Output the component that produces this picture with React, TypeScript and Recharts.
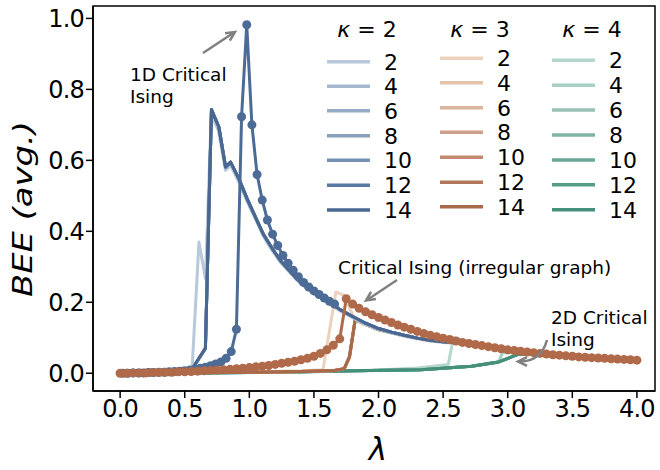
import { LineChart, Line, XAxis, YAxis, ReferenceArea } from "recharts";

type Pt = [number, number];

const FONT = "'DejaVu Sans', Verdana, sans-serif";

const LAMBDA_TICKS = [0, 0.5, 1, 1.5, 2, 2.5, 3, 3.5, 4];
const BEE_TICKS = [0, 0.2, 0.4, 0.6, 0.8, 1.0];
const N_SIZES = [2, 4, 6, 8, 10, 12, 14];

const BLUES = ["#b7c9db", "#a4b8cd", "#96acc5", "#8aa1bd", "#7591b4", "#5a79a3", "#4a6791"];
const BROWNS = ["#ecd2bc", "#e3c4aa", "#d9b69c", "#cda08a", "#c18a6e", "#b2785a", "#a9694b"];
const TEALS = ["#b5d6cc", "#a8cfc3", "#97c2b6", "#7fb3a4", "#6aa896", "#579d89", "#44907b"];

// kappa = 2
const K2_N2: Pt[] = [
  [0, 0], [0.2, 0.001], [0.4, 0.003], [0.5, 0.005], [0.557, 0.012], [0.61, 0.37], [0.66, 0.267],
  [0.705, 0.728], [0.76, 0.685], [0.815, 0.572], [0.855, 0.585], [0.92, 0.538], [0.985, 0.482],
  [1.05, 0.432], [1.11, 0.385], [1.18, 0.344], [1.24, 0.313], [1.32, 0.281], [1.4, 0.251],
  [1.5, 0.224], [1.6, 0.201], [1.7, 0.176], [1.8, 0.156], [1.9, 0.137], [2.0, 0.123], [2.1, 0.113],
  [2.2, 0.104], [2.3, 0.097], [2.4, 0.091], [2.5, 0.087], [2.6, 0.084], [2.8, 0.075], [3.0, 0.065],
  [3.25, 0.056], [3.5, 0.048], [3.75, 0.042], [4.0, 0.036],
];
const K2_LARGE: Pt[] = [
  [0, 0], [0.2, 0.001], [0.4, 0.003], [0.5, 0.005], [0.557, 0.012], [0.66, 0.07], [0.707, 0.743],
  [0.764, 0.694], [0.816, 0.581], [0.855, 0.595], [0.92, 0.547], [0.985, 0.49], [1.05, 0.438],
  [1.11, 0.391], [1.18, 0.35], [1.24, 0.318], [1.32, 0.285], [1.4, 0.255], [1.5, 0.228],
  [1.6, 0.205], [1.7, 0.18], [1.8, 0.16], [1.9, 0.141], [2.0, 0.126], [2.1, 0.116], [2.2, 0.107],
  [2.3, 0.099], [2.4, 0.093], [2.5, 0.089], [2.6, 0.086], [2.8, 0.077], [3.0, 0.067],
  [3.25, 0.058], [3.5, 0.049], [3.75, 0.043], [4.0, 0.037],
];

// kappa = 3
const K3_N2: Pt[] = [
  [0, 0], [0.5, 0.002], [1.0, 0.004], [1.4, 0.007], [1.57, 0.01], [1.67, 0.229], [1.73, 0.22],
  [1.82, 0.15], [1.9, 0.137], [2.0, 0.122], [2.2, 0.105], [2.4, 0.091], [2.6, 0.085],
  [3.0, 0.066], [3.5, 0.048], [4.0, 0.036],
];
const K3_LARGE: Pt[] = [
  [0, 0], [0.5, 0.002], [1.0, 0.003], [1.4, 0.005], [1.66, 0.008], [1.735, 0.013], [1.775, 0.046],
  [1.82, 0.152], [1.9, 0.138], [2.0, 0.123], [2.2, 0.106], [2.4, 0.092], [2.6, 0.085],
  [3.0, 0.066], [3.5, 0.048], [4.0, 0.036],
];

// kappa = 4
const K4_N2: Pt[] = [
  [0, 0], [0.5, 0.001], [1.0, 0.002], [1.5, 0.004], [2.0, 0.009], [2.3, 0.015], [2.54, 0.025],
  [2.58, 0.1], [2.75, 0.083], [2.95, 0.062], [3.1, 0.058], [3.5, 0.046], [4.0, 0.035],
];
const K4_N4: Pt[] = [
  [0, 0], [0.5, 0.001], [1.0, 0.002], [1.5, 0.004], [2.0, 0.008], [2.33, 0.011], [2.72, 0.02],
  [2.93, 0.031], [2.96, 0.058], [3.1, 0.058], [3.5, 0.046], [4.0, 0.035],
];
const K4_LARGE: Pt[] = [
  [0, 0], [0.5, 0.001], [1.0, 0.002], [1.4, 0.004], [1.8, 0.007], [2.33, 0.01], [2.72, 0.02],
  [2.93, 0.032], [3.03, 0.046], [3.08, 0.053], [3.2, 0.056], [3.5, 0.047], [4.0, 0.036],
];

// reference curves with markers
const CHAIN_LAMBDA = [
  0.02, 0.06, 0.1, 0.14, 0.18, 0.22, 0.26, 0.3, 0.34, 0.38, 0.42, 0.46, 0.5, 0.54, 0.58, 0.62,
  0.66, 0.7, 0.74, 0.78, 0.82, 0.86, 0.9, 0.94, 0.98, 1.02, 1.06, 1.1, 1.14, 1.18, 1.22, 1.26,
  1.3, 1.34, 1.38, 1.42, 1.46, 1.5, 1.54, 1.58, 1.62, 1.66,
];
const CHAIN_BEE = [
  0, 0, 0.001, 0.001, 0.001, 0.002, 0.002, 0.003, 0.003, 0.004, 0.005, 0.006, 0.007, 0.009, 0.011,
  0.014, 0.017, 0.021, 0.026, 0.032, 0.042, 0.061, 0.124, 0.723, 0.982, 0.7, 0.56, 0.488, 0.432,
  0.392, 0.36, 0.332, 0.31, 0.29, 0.272, 0.256, 0.243, 0.232, 0.222, 0.212, 0.203, 0.195,
];

const IRREG_LAMBDA = [
  0, 0.05, 0.1, 0.15, 0.2, 0.25, 0.3, 0.35, 0.4, 0.45, 0.5, 0.55, 0.6, 0.65, 0.7, 0.75, 0.8, 0.85,
  0.9, 0.95, 1.0, 1.05, 1.1, 1.15, 1.2, 1.25, 1.3, 1.35, 1.4, 1.45, 1.5, 1.55, 1.6, 1.65, 1.7,
  1.75, 1.8, 1.85, 1.9, 1.95, 2.0, 2.05, 2.1, 2.15, 2.2, 2.25, 2.3, 2.35, 2.4, 2.45, 2.5, 2.55,
  2.6, 2.65, 2.7, 2.75, 2.8, 2.85, 2.9, 2.95, 3.0, 3.05, 3.1, 3.15, 3.2, 3.25, 3.3, 3.35, 3.4,
  3.45, 3.5, 3.55, 3.6, 3.65, 3.7, 3.75, 3.8, 3.85, 3.9, 3.95, 4.0,
];
const IRREG_BEE = [
  0, 0, 0.001, 0.001, 0.001, 0.002, 0.002, 0.003, 0.003, 0.004, 0.004, 0.005, 0.006, 0.007, 0.008,
  0.009, 0.01, 0.011, 0.013, 0.014, 0.016, 0.018, 0.02, 0.022, 0.025, 0.028, 0.031, 0.034, 0.038,
  0.042, 0.048, 0.056, 0.066, 0.079, 0.097, 0.21, 0.195, 0.183, 0.173, 0.165, 0.157, 0.15, 0.143,
  0.136, 0.13, 0.124, 0.118, 0.112, 0.107, 0.103, 0.099, 0.095, 0.091, 0.087, 0.084, 0.081, 0.078,
  0.075, 0.072, 0.069, 0.066, 0.064, 0.062, 0.06, 0.058, 0.056, 0.054, 0.052, 0.051, 0.049, 0.048,
  0.046, 0.045, 0.044, 0.043, 0.042, 0.041, 0.04, 0.039, 0.038, 0.037,
];

const K2_CURVES = [K2_N2, K2_LARGE, K2_LARGE, K2_LARGE, K2_LARGE, K2_LARGE, K2_LARGE];
const K3_CURVES = [K3_N2, K3_LARGE, K3_LARGE, K3_LARGE, K3_LARGE, K3_LARGE, K3_LARGE];
const K4_CURVES = [K4_N2, K4_N4, K4_LARGE, K4_LARGE, K4_LARGE, K4_LARGE, K4_LARGE];

const toRows = (pts: Pt[]) => pts.map(([x, v]) => ({ x, v }));
const zipRows = (xs: number[], vs: number[]) => xs.map((x, i) => ({ x, v: vs[i] }));

const GREY = "#808080";

function Chevron({ x, y, angle }: { x: number; y: number; angle: number }) {
  // open arrow head pointing along `angle` (degrees)
  const a = (angle * Math.PI) / 180;
  const len = 10;
  const spread = 0.45;
  const p1 = [x - len * Math.cos(a - spread), y - len * Math.sin(a - spread)];
  const p2 = [x - len * Math.cos(a + spread), y - len * Math.sin(a + spread)];
  return (
    <path
      d={`M${p1[0]},${p1[1]} L${x},${y} L${p2[0]},${p2[1]}`}
      fill="none"
      stroke={GREY}
      strokeWidth={2.5}
    />
  );
}

function Overlay() {
  const cols = [
    { title: "2", colors: BLUES, lineX: 327, labelX: 384, rowY: [61.7, 86.3, 110.7, 135.7, 160.3, 185.3, 210] },
    { title: "3", colors: BROWNS, lineX: 440, labelX: 497, rowY: [58.3, 82.7, 107.7, 132.3, 157.3, 182.3, 206.7] },
    { title: "4", colors: TEALS, lineX: 552, labelX: 609, rowY: [60.3, 85.3, 110, 135, 160, 184.7, 209.7] },
  ];
  return (
    <svg
      width={660}
      height={470}
      style={{ position: "absolute", left: 0, top: 0, pointerEvents: "none" }}
      fontFamily={FONT}
    >
      {cols.map((c) => (
        <g key={c.title}>
          <text x={c.lineX + 40} y={37} fontSize={22} textAnchor="middle" fill="#000">
            <tspan fontStyle="italic">κ</tspan> = {c.title}
          </text>
          {N_SIZES.map((n, i) => (
            <g key={n}>
              <line x1={c.lineX} x2={c.lineX + 43} y1={c.rowY[i]} y2={c.rowY[i]} stroke={c.colors[i]} strokeWidth={3.5} />
              <text x={c.labelX} y={c.rowY[i] + 8} fontSize={22} fill="#000">
                {n}
              </text>
            </g>
          ))}
        </g>
      ))}

      {/* annotations */}
      <text x={130} y={81} fontSize={18.5} fill="#000">1D Critical</text>
      <text x={130} y={103} fontSize={18.5} fill="#000">Ising</text>
      <line x1={203} y1={53} x2={234} y2={32.5} stroke={GREY} strokeWidth={2.5} />
      <Chevron x={235} y={32} angle={-33} />

      <text x={338} y={274} fontSize={18.5} fill="#000">Critical Ising (irregular graph)</text>
      <line x1={397} y1={280} x2={367} y2={300} stroke={GREY} strokeWidth={2.5} />
      <Chevron x={366} y={300.5} angle={146} />

      <text x={551} y={324} fontSize={18.5} fill="#000">2D Critical</text>
      <text x={551} y={346} fontSize={18.5} fill="#000">Ising</text>
      <path d="M547,340 Q541,362 519,361.5" fill="none" stroke={GREY} strokeWidth={2.5} />
      <Chevron x={518} y={361.5} angle={180} />

      {/* axis titles */}
      <text x={378} y={460} fontSize={31} fontStyle="italic" textAnchor="middle" fill="#000">λ</text>
      <text
        x={0}
        y={0}
        fontSize={26}
        fontStyle="italic"
        textAnchor="middle"
        fill="#000"
        transform="translate(32,209) rotate(-90) scale(1.3,1)"
      >
        BEE (avg.)
      </text>
    </svg>
  );
}

export default function App() {
  const fmt = (t: number) => t.toFixed(1);
  const tickStyle = { fontSize: 24, fill: "#000", fontFamily: FONT, letterSpacing: -0.8 };
  const families = [
    { key: "k4", curves: K4_CURVES, colors: TEALS },
    { key: "k3", curves: K3_CURVES, colors: BROWNS },
    { key: "k2", curves: K2_CURVES, colors: BLUES },
  ];
  return (
    <div style={{ position: "absolute", left: 0, top: 0, width: 660, height: 470, background: "#fff" }}>
      <LineChart width={660} height={470} margin={{ top: 6, right: 5, bottom: 0, left: 0 }}>
        <XAxis
          type="number"
          dataKey="x"
          domain={[-0.21, 4.14]}
          ticks={LAMBDA_TICKS}
          allowDataOverflow
          tickFormatter={fmt}
          height={79}
          tickSize={7}
          axisLine={{ stroke: "#000", strokeWidth: 1.5 }}
          tickLine={{ stroke: "#000", strokeWidth: 1.5 }}
          tick={tickStyle}
        />
        <YAxis
          type="number"
          domain={[-0.05, 1.035]}
          ticks={BEE_TICKS}
          allowDataOverflow
          tickFormatter={fmt}
          width={93}
          tickSize={7}
          axisLine={{ stroke: "#000", strokeWidth: 1.5 }}
          tickLine={{ stroke: "#000", strokeWidth: 1.5 }}
          tick={tickStyle}
        />
        {families.map((f) =>
          f.curves.map((pts, i) => (
            <Line
              key={`${f.key}-${N_SIZES[i]}`}
              data={toRows(pts)}
              dataKey="v"
              type="linear"
              stroke={f.colors[i]}
              strokeWidth={3}
              strokeLinejoin="round"
              dot={false}
              activeDot={false}
              isAnimationActive={false}
            />
          ))
        )}
        <Line
          data={zipRows(CHAIN_LAMBDA, CHAIN_BEE)}
          dataKey="v"
          type="linear"
          stroke="#4c6b96"
          strokeWidth={3}
          dot={{ r: 4.5, fill: "#4c6b96", stroke: "none" }}
          activeDot={false}
          isAnimationActive={false}
        />
        <Line
          data={zipRows(IRREG_LAMBDA, IRREG_BEE)}
          dataKey="v"
          type="linear"
          stroke="#b06a4a"
          strokeWidth={3}
          dot={{ r: 4.5, fill: "#b06a4a", stroke: "none" }}
          activeDot={false}
          isAnimationActive={false}
        />
        <ReferenceArea
          x1={-0.21}
          x2={4.14}
          y1={-0.05}
          y2={1.035}
          fill="none"
          fillOpacity={0}
          stroke="#000"
          strokeWidth={1.5}
        />
      </LineChart>
      <Overlay />
    </div>
  );
}
